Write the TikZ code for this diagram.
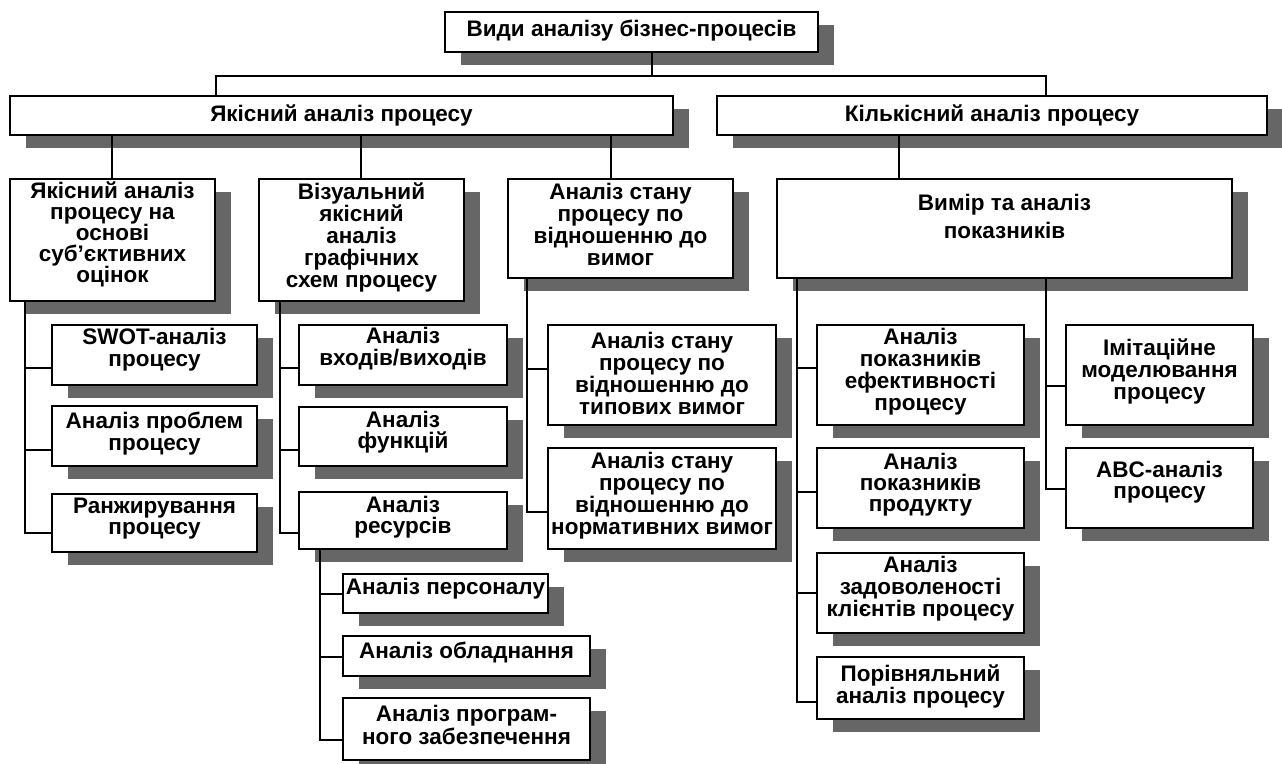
\documentclass[tikz,border=0pt]{standalone}
\usepackage{fontspec}
\setmainfont{Liberation Sans}
\newcommand\mybox[5]{%
  \fill[shd] (#2+16,#3+13) rectangle (#4+16,#5+13);
  \node[box, minimum width={#4-#2}, minimum height={#5-#3}] (#1) at ({(#2+#4)/2},{(#3+#5)/2}) {};}
\begin{document}
\begin{tikzpicture}[x=1pt,y=-1pt,
  box/.style={draw=black, line width=1.8pt, fill=white, inner sep=0pt, outer sep=0pt},
  conn/.style={draw=black, line width=1.8pt},
  shd/.style={fill=black!60},
  txt/.style={align=center, inner sep=0pt, font=\fontsize{22.5}{22}\selectfont\bfseries},
  tight/.style={font=\fontsize{22.5}{21}\selectfont\bfseries},
  wide/.style={font=\fontsize{22.5}{28}\selectfont\bfseries}]
\useasboundingbox (0,0) rectangle (1282,763);
% boxes
\mybox{top}{445}{12}{818}{52}
\mybox{qual}{10}{96}{673}{135}
\mybox{quant}{717}{96}{1267}{135}
\mybox{b1}{10}{179}{215}{301}
\mybox{b2}{259}{179}{464}{301}
\mybox{b3}{508}{179}{733}{278}
\mybox{b4}{777}{179}{1232}{278}
\mybox{swot}{52}{325}{257}{385}
\mybox{prob}{52}{406}{257}{466}
\mybox{rank}{52}{494}{257}{552}
\mybox{io}{299}{325}{507}{385}
\mybox{func}{299}{407}{507}{466}
\mybox{res}{299}{492}{507}{549}
\mybox{pers}{343}{574}{548}{613}
\mybox{equip}{343}{636}{590}{676}
\mybox{soft}{343}{698}{590}{760}
\mybox{typ}{548}{325}{776}{425}
\mybox{norm}{548}{448}{776}{549}
\mybox{eff}{817}{325}{1024}{425}
\mybox{prod}{817}{448}{1024}{528}
\mybox{sat}{817}{553}{1024}{633}
\mybox{cmp}{817}{657}{1024}{719}
\mybox{sim}{1066}{325}{1253}{425}
\mybox{abc}{1066}{448}{1253}{528}
% junction coordinates
\coordinate (bus) at (652,76);
\coordinate (xq) at (216,0);
\coordinate (xk) at (1046,0);
\coordinate (x1) at (112,0);
\coordinate (x2) at (361,0);
\coordinate (x3) at (611,0);
\coordinate (x4) at (899,0);
\coordinate (t1) at (25,0);
\coordinate (t2) at (280,0);
\coordinate (t3) at (527,0);
\coordinate (tr) at (320,0);
\coordinate (t4) at (797,0);
\coordinate (t5) at (1046,0);
% connectors
\draw[conn] (top.south -| bus) -- (bus);
\draw[conn] (qual.north -| xq) |- (bus) -| (quant.north -| xk);
\draw[conn] (qual.south -| x1) -- (b1.north -| x1);
\draw[conn] (qual.south -| x2) -- (b2.north -| x2);
\draw[conn] (qual.south -| x3) -- (b3.north -| x3);
\draw[conn] (quant.south -| x4) -- (b4.north -| x4);
\draw[conn] (b1.south -| t1) |- ([yshift=-13pt]swot.west);
\draw[conn] (b1.south -| t1) |- ([yshift=-14pt]prob.west);
\draw[conn] (b1.south -| t1) |- ([yshift=-10pt]rank.west);
\draw[conn] (b2.south -| t2) |- ([yshift=-13pt]io.west);
\draw[conn] (b2.south -| t2) |- ([yshift=-13.5pt]func.west);
\draw[conn] (b2.south -| t2) |- ([yshift=-12.5pt]res.west);
\draw[conn] (res.south -| tr) |- ([yshift=-0.5pt]pers.west);
\draw[conn] (res.south -| tr) |- ([yshift=-1pt]equip.west);
\draw[conn] (res.south -| tr) |- ([yshift=-11pt]soft.west);
\draw[conn] (b3.south -| t3) |- ([yshift=6pt]typ.west);
\draw[conn] (b3.south -| t3) |- ([yshift=-13.5pt]norm.west);
\draw[conn] (b4.south -| t4) |- ([yshift=7pt]eff.west);
\draw[conn] (b4.south -| t4) |- ([yshift=-4pt]prod.west);
\draw[conn] (b4.south -| t4) |- (sat.west);
\draw[conn] (b4.south -| t4) |- ([yshift=-14pt]cmp.west);
\draw[conn] (b4.south -| t5) |- ([yshift=-11pt]sim.west);
\draw[conn] (b4.south -| t5) |- ([yshift=-1pt]abc.west);
% texts
\node[txt] (ltop) at (631.5,31) {Види аналізу бізнес-процесів};
\node[txt] (lqual) at (341.5,115) {Якісний аналіз процесу};
\node[txt] (lquant) at (992,115) {Кількісний аналіз процесу};
\node[txt,tight] (lb1) at (112.5,234) {Якісний аналіз\\процесу на\\основі\\суб’єктивних\\оцінок};
\node[txt] (lb2) at (361.5,237) {Візуальний\\якісний\\аналіз\\графічних\\схем процесу};
\node[txt] (lb3) at (620.5,224) {Аналіз стану\\процесу по\\відношенню до\\вимог};
\node[txt,wide] (lb4) at (1004.5,216) {Вимір та аналіз\\показників};
\node[txt] (lswot) at (154.5,350) {SWOT-аналіз\\процесу};
\node[txt] (lprob) at (154.5,434) {Аналіз проблем\\процесу};
\node[txt,tight] (lrank) at (154.5,519) {Ранжирування\\процесу};
\node[txt] (lio) at (403,349) {Аналіз\\входів/виходів};
\node[txt,tight] (lfunc) at (403,432) {Аналіз\\функцій};
\node[txt,tight] (lres) at (403,517) {Аналіз\\ресурсів};
\node[txt] (lpers) at (445.5,589) {Аналіз персоналу};
\node[txt] (lequip) at (466.5,652) {Аналіз обладнання};
\node[txt,tight] (lsoft) at (466.5,725) {Аналіз програм-\\ного забезпечення};
\node[txt] (ltyp) at (662,373) {Аналіз стану\\процесу по\\відношенню до\\типових вимог};
\node[txt] (lnorm) at (662,496) {Аналіз стану\\процесу по\\відношенню до\\нормативних вимог};
\node[txt] (leff) at (920.5,372) {Аналіз\\показників\\ефективності\\процесу};
\node[txt,tight] (lprod) at (920.5,485) {Аналіз\\показників\\продукту};
\node[txt] (lsat) at (920.5,589) {Аналіз\\задоволеності\\клієнтів процесу};
\node[txt] (lcmp) at (920.5,686) {Порівняльний\\аналіз процесу};
\node[txt] (lsim) at (1159.5,371) {Імітаційне\\моделювання\\процесу};
\node[txt,tight] (labc) at (1159.5,482) {ABC-аналіз\\процесу};
\end{tikzpicture}
\end{document}
